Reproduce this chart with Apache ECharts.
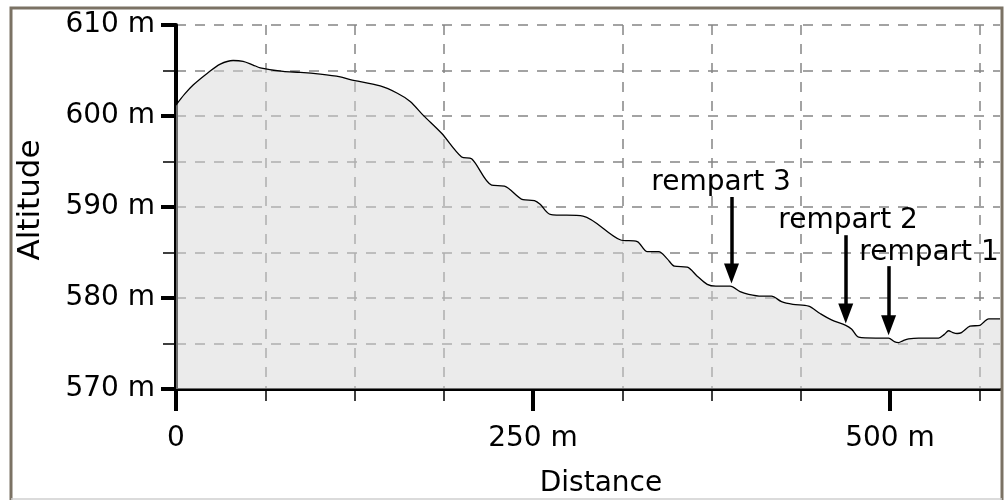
<!DOCTYPE html>
<html>
<head>
<meta charset="utf-8">
<script src="https://cdn.jsdelivr.net/npm/echarts@6/dist/echarts.min.js"></script>
<style>
  html, body { margin: 0; padding: 0; background: #fff; }
  #chart { width: 1008px; height: 500px; }
</style>
</head>
<body>
<div id="chart"></div>
<script>
// profile (distance in m, altitude in m)
const distance = [0, 6, 12, 22, 31, 40, 47, 54, 59, 75, 87, 101, 115, 122, 143, 155, 164, 173, 186, 200,
  207, 221, 230, 243, 251, 255, 262, 285, 311, 323, 330, 338, 344, 349, 358, 365, 372, 378, 388, 395,
  401, 410, 417, 424, 432, 443, 451, 459, 469, 473, 478, 490, 499, 503, 506, 509, 513, 520, 534, 538,
  541, 544, 547, 550, 556, 563, 566, 569, 577];
const altitude = [601.2, 602.4, 603.4, 604.7, 605.7, 606.1, 606.0, 605.6, 605.3, 604.9, 604.8, 604.6, 604.3, 604.0, 603.3, 602.5, 601.6, 600.1, 598.1, 595.5,
  595.3, 592.4, 592.3, 590.8, 590.7, 590.3, 589.2, 589.0, 586.4, 586.2, 585.1, 585.1, 584.3, 583.5, 583.4, 582.4, 581.5, 581.3, 581.3, 580.7,
  580.4, 580.2, 580.2, 579.6, 579.3, 579.1, 578.3, 577.6, 577.0, 576.6, 575.7, 575.6, 575.6, 575.2, 575.1, 575.3, 575.5, 575.6, 575.6, 576.0,
  576.4, 576.2, 576.1, 576.2, 576.9, 577.0, 577.4, 577.7, 577.7];

// annotations
const rampartNames = ['rempart 3', 'rempart 2', 'rempart 1'];
const rampartX = [389, 469, 499];
const arrowTop = [591.1, 586.9, 583.5];
const arrowTip = [582.7, 578.3, 577.0];
const labelX = [381.7, 470.6, 527.3];
const labelY = [592.7, 588.5, 585.0];

// axes
const xMin = 0, xMax = 577;
const xMajor = [0, 250, 500];
const xMinor = [62.5, 125, 187.5, 312.5, 375, 437.5, 562.5];
const yMin = 570, yMax = 610;

const font = 'DejaVu Sans';
const chart = echarts.init(document.getElementById('chart'));

const gridDash = { color: '#858585', width: 1.5, type: [10, 9] };

chart.setOption({
  animation: false,
  textStyle: { fontFamily: font },
  graphic: [
    { type: 'polyline', shape: { points: [[11, 500], [11, 8], [1002, 8], [1002, 500]] },
      style: { stroke: '#7b7264', lineWidth: 3, fill: null }, z: 100 },
    { type: 'line', shape: { x1: 11, y1: 499, x2: 1002, y2: 499 },
      style: { stroke: '#cfcfcf', lineWidth: 1.5 }, z: 100 }
  ],
  grid: { left: 176, right: 8, top: 25, bottom: 111, outerBoundsMode: 'none' },
  xAxis: [
    {
      type: 'value', min: xMin, max: xMax, interval: 62.5,
      axisLine: { show: true, lineStyle: { color: '#000', width: 3 } },
      axisTick: { show: true, customValues: xMinor, length: 12, lineStyle: { color: '#000', width: 1.5 } },
      axisLabel: { show: false },
      splitLine: { show: true, lineStyle: gridDash }
    },
    {
      type: 'value', min: xMin, max: xMax, position: 'bottom',
      axisLine: { show: false },
      axisTick: { show: true, customValues: xMajor, length: 22, lineStyle: { color: '#000', width: 4 } },
      axisLabel: { show: true, customValues: xMajor, margin: 36, fontSize: 28, color: '#000',
        formatter: v => v === 0 ? '0' : v + ' m' },
      splitLine: { show: false },
      name: 'Distance', nameLocation: 'middle', nameGap: 81,
      nameTextStyle: { fontSize: 28, color: '#000', padding: [0, 0, 0, 26] }
    }
  ],
  yAxis: {
    type: 'value', min: yMin, max: yMax, interval: 10,
    axisLine: { show: true, lineStyle: { color: '#000', width: 4 } },
    axisTick: { show: true, length: 15, lineStyle: { color: '#000', width: 4 } },
    minorTick: { show: true, splitNumber: 2, length: 13, lineStyle: { color: '#000', width: 1.5 } },
    axisLabel: { margin: 21, fontSize: 28, color: '#000', formatter: '{value} m' },
    splitLine: { show: true, lineStyle: gridDash },
    minorSplitLine: { show: true, lineStyle: gridDash },
    name: 'Altitude', nameLocation: 'middle', nameGap: 130,
    nameTextStyle: { fontSize: 31, color: '#000', padding: [0, 0, 0, 14] }
  },
  series: [{
    type: 'line',
    xAxisIndex: 0,
    data: distance.map((d, i) => [d, altitude[i]]),
    smooth: 0.3,
    showSymbol: false,
    silent: true,
    lineStyle: { color: '#000', width: 1.3 },
    areaStyle: { color: 'rgba(215,215,215,0.72)' },
    markLine: {
      silent: true,
      symbol: ['none', 'triangle'],
      symbolSize: [15, 20],
      label: { show: false },
      lineStyle: { color: '#000', width: 3.5, type: 'solid' },
      data: rampartX.map((x, i) => [{ coord: [x, arrowTop[i]] }, { coord: [x, arrowTip[i]] }])
    },
    markPoint: {
      silent: true,
      symbol: 'circle', symbolSize: 1,
      itemStyle: { color: 'transparent' },
      label: { show: true, position: 'inside', fontSize: 28, color: '#000', fontFamily: font,
        formatter: p => p.name },
      data: rampartNames.map((n, i) => ({ name: n, coord: [labelX[i], labelY[i]] }))
    }
  }]
});
</script>
</body>
</html>
